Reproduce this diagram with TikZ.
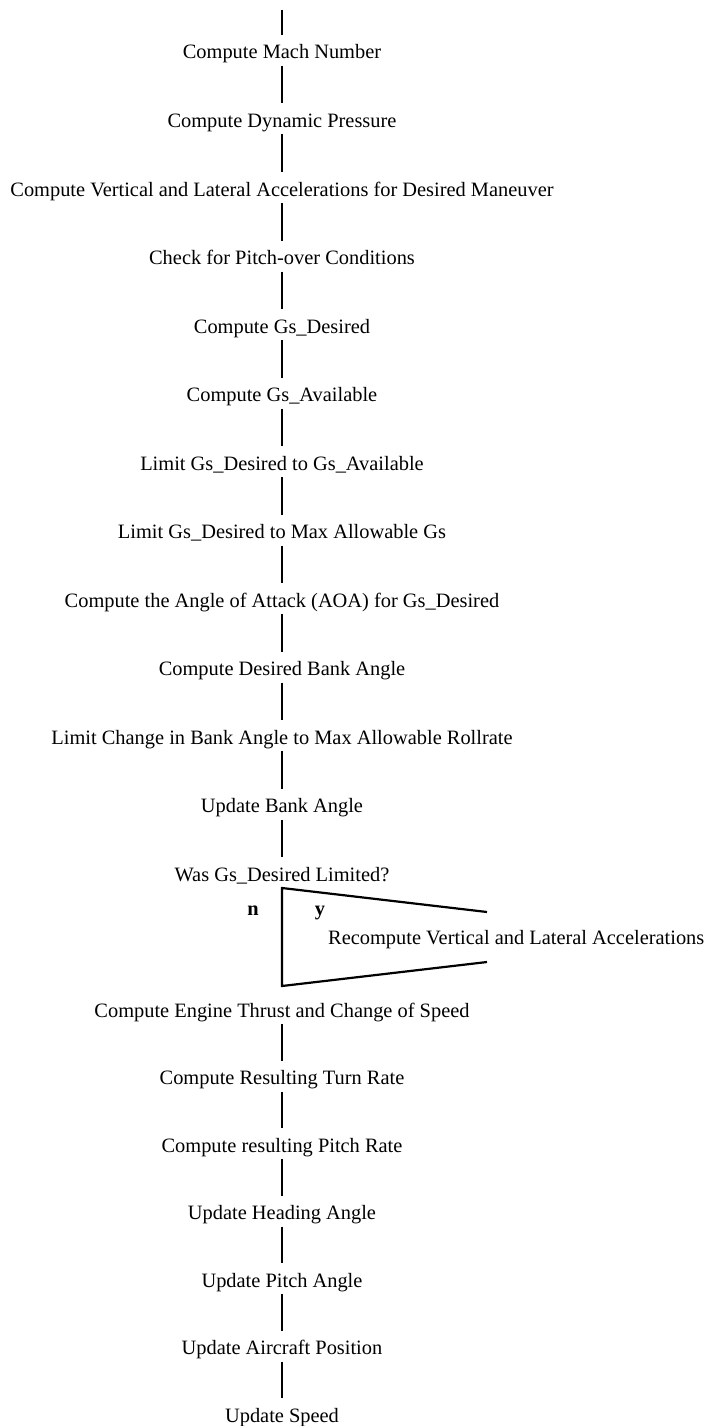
\documentclass[tikz,border=0pt]{standalone}
\usepackage{fontspec}
\setmainfont{Liberation Serif}
\begin{document}
\begin{tikzpicture}[x=1pt,y=-1pt,
  lbl/.style={font=\fontsize{20.4}{24}\selectfont, inner sep=0pt, outer sep=0pt,
    text height=14pt, text depth=5pt, anchor=base},
  side/.style={font=\fontsize{20.4}{24}\selectfont, inner sep=0pt, anchor=base},
  conn/.style={line width=2pt, shorten <=2pt, shorten >=10pt},
  edge/.style={line width=2.2pt, line join=miter}]
\useasboundingbox (0,0) rectangle (710,1426);
\fill[white] (0,0) rectangle (710,1426);
\coordinate (start) at (282,10);
\node[lbl] (s1)  at (282,59)     {Compute Mach Number};
\node[lbl] (s2)  at (282,127.5)  {Compute Dynamic Pressure};
\node[lbl] (s3)  at (282,196)    {Compute Vertical and Lateral Accelerations for Desired Maneuver};
\node[lbl] (s4)  at (282,264.5)  {Check for Pitch-over Conditions};
\node[lbl] (s5)  at (282,333)    {Compute Gs\_Desired};
\node[lbl] (s6)  at (282,401.5)  {Compute Gs\_Available};
\node[lbl] (s7)  at (282,470)    {Limit Gs\_Desired to Gs\_Available};
\node[lbl] (s8)  at (282,538.5)  {Limit Gs\_Desired to Max Allowable Gs};
\node[lbl] (s9)  at (282,607)    {Compute the Angle of Attack (AOA) for Gs\_Desired};
\node[lbl] (s10) at (282,675.5)  {Compute Desired Bank Angle};
\node[lbl] (s11) at (282,744)    {Limit Change in Bank Angle to Max Allowable Rollrate};
\node[lbl] (s12) at (282,812.5)  {Update Bank Angle};
\node[lbl] (q)   at (282,881)    {Was Gs\_Desired Limited?};
\coordinate (qc) at (282,888);
\coordinate (tr) at (487,912);
\coordinate (br) at (487,962);
\coordinate (bl) at (282,986);
\node[side, font=\fontsize{20.4}{24}\selectfont\bfseries] (no)  at (253,915) {n};
\node[side, font=\fontsize{20.4}{24}\selectfont\bfseries] (yes) at (320,915) {y};
\node[side, anchor=base west] (rc) at (328,944) {Recompute Vertical and Lateral Accelerations};
\node[lbl] (s14) at (282,1017)   {Compute Engine Thrust and Change of Speed};
\node[lbl] (s15) at (282,1084.5) {Compute Resulting Turn Rate};
\node[lbl] (s16) at (282,1152)   {Compute resulting Pitch Rate};
\node[lbl] (s17) at (282,1219.5) {Update Heading Angle};
\node[lbl] (s18) at (282,1287)   {Update Pitch Angle};
\node[lbl] (s19) at (282,1354.5) {Update Aircraft Position};
\node[lbl] (s20) at (282,1422)   {Update Speed};
\draw[line width=2pt, shorten >=10pt] (start) -- (s1.north);
\foreach \a/\b in {s1/s2,s2/s3,s3/s4,s4/s5,s5/s6,s6/s7,s7/s8,s8/s9,s9/s10,s10/s11,s11/s12,s12/q,
                   s14/s15,s15/s16,s16/s17,s17/s18,s18/s19,s19/s20}
  \draw[conn] (\a.south) -- (\b.north);
\draw[edge] (tr) -- (qc) -- (bl) -- (br);
\end{tikzpicture}
\end{document}
